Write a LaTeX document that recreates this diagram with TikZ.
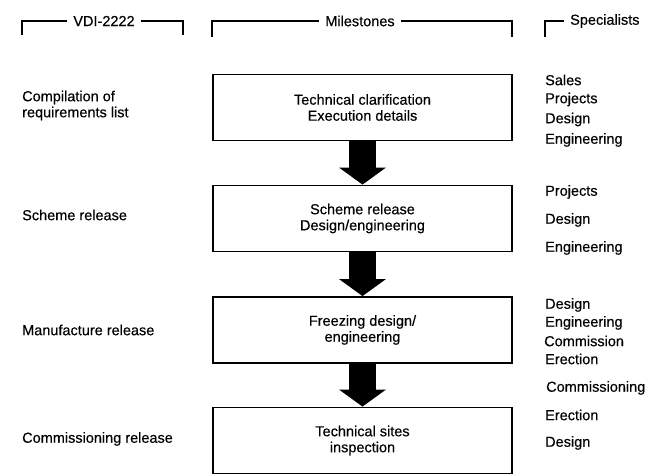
\documentclass[tikz,border=0pt]{standalone}
\usepackage{fontspec}
\setmainfont{Liberation Sans}
\newfontfamily\labelfont[FakeBold=0.35]{Liberation Sans}
\usetikzlibrary{arrows.meta}
\begin{document}
\begin{tikzpicture}[x=1pt,y=-1pt,
  every node/.style={font=\labelfont\fontsize{14.5}{16}\selectfont},
  box/.style={draw, line width=1.8pt, minimum width=299pt, minimum height=66pt,
              align=center, inner sep=0pt},
  side/.style={anchor=west, align=left, inner sep=0pt},
  spec/.style={anchor=west, inner sep=0pt},
  head/.style={inner xsep=6pt, inner ysep=0pt},
  bracket/.style={line width=1.2pt},
  flow/.style={line width=27pt, -{Triangle[width=46pt,length=17pt]}}
]
\useasboundingbox (0,0) rectangle (649,476);

% column headings with their brackets
\node[head] (hvdi) at (104,21) {VDI-2222};
\node[head] (hmil) at (360,21) {Milestones};
\node[head, anchor=west] (hspec) at (564,21) {Specialists};
\coordinate (vdiL) at (22,35);
\coordinate (vdiR) at (183,35);
\coordinate (milL) at (212,37);
\coordinate (milR) at (512,37);
\coordinate (specL) at (545,37);
\draw[bracket] (vdiL) |- (hvdi.west);
\draw[bracket] (hvdi.east) -| (vdiR);
\draw[bracket] (milL) |- (hmil.west);
\draw[bracket] (hmil.east) -| (milR);
\draw[bracket] (specL) |- (hspec.west);

% milestone boxes
\node[box] (b1) at (362.5,107.5) {Technical clarification\\Execution details};
\node[box] (b2) at (362.5,218.5) {Scheme release\\Design/engineering};
\node[box] (b3) at (362.5,330) {Freezing design/\\engineering};
\node[box] (b4) at (362.5,440.5) {Technical sites\\inspection};

% block arrows between milestones
\draw[flow] (b1.south) -- (b2.north);
\draw[flow] (b2.south) -- (b3.north);
\draw[flow] (b3.south) -- (b4.north);

% VDI-2222 stages
\node[side] (v1) at (22,105.5) {Compilation of\\requirements list};
\node[side] (v2) at (22,215) {Scheme release};
\node[side] (v3) at (22,330) {Manufacture release};
\node[side] (v4) at (22,439) {Commissioning release};

% specialists involved
\node[spec] (s1a) at (545,80) {Sales};
\node[spec] (s1b) at (545,99.5) {Projects};
\node[spec] (s1c) at (545,119.5) {Design};
\node[spec] (s1d) at (545,140) {Engineering};

\node[spec] (s2a) at (545,192) {Projects};
\node[spec] (s2b) at (545,220) {Design};
\node[spec] (s2c) at (545,248) {Engineering};

\node[spec] (s3a) at (545,305) {Design};
\node[spec] (s3b) at (545,323) {Engineering};
\node[spec] (s3c) at (544,341) {Commission};
\node[spec] (s3d) at (545,359) {Erection};

\node[spec] (s4a) at (546,388) {Commissioning};
\node[spec] (s4b) at (545,415) {Erection};
\node[spec] (s4c) at (545,443) {Design};
\end{tikzpicture}
\end{document}
